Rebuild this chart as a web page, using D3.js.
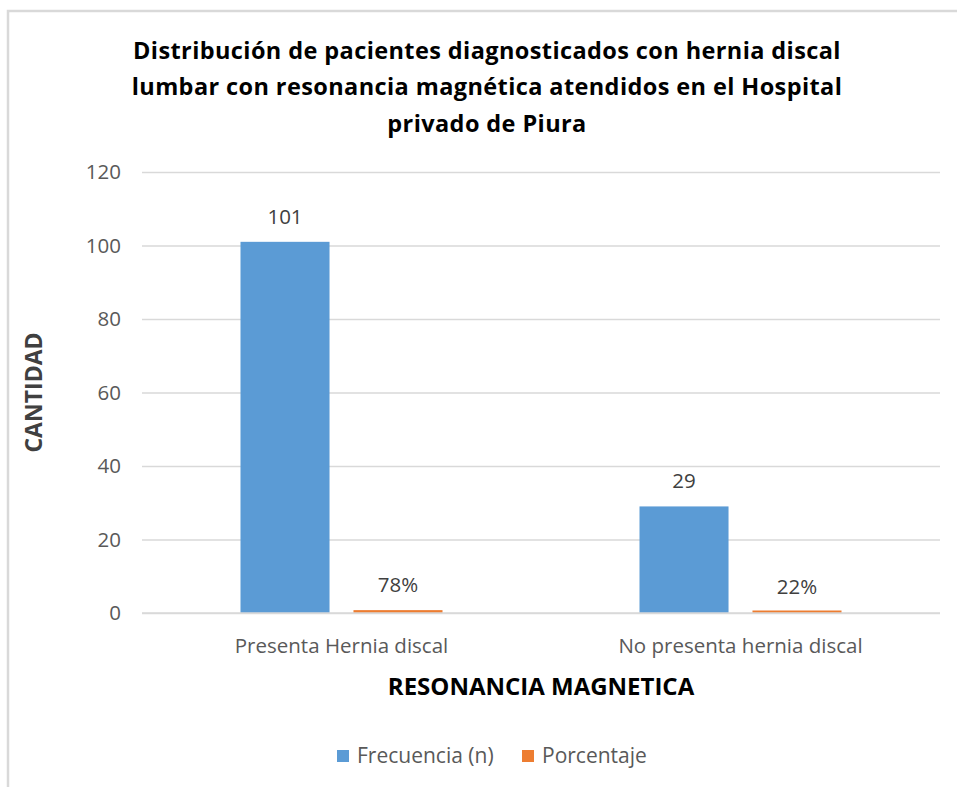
<!DOCTYPE html>
<html>
<head>
<meta charset="utf-8">
<script src="https://cdn.jsdelivr.net/npm/d3@7"></script>
<style>
  body { margin: 0; background: #fff; }
  svg text { font-family: "Open Sans", "Noto Sans", sans-serif; }
</style>
</head>
<body>
<script>
// chart data
var categories = ["Presenta Hernia discal", "No presenta hernia discal"];
var seriesNames = ["Frecuencia (n)", "Porcentaje"];
var frecuencia = [101, 29];
var porcentaje = [0.78, 0.22];
var porcentajeLabels = ["78%", "22%"];
var yTicks = [0, 20, 40, 60, 80, 100, 120];
var titleLines = [
  "Distribución de pacientes diagnosticados con hernia discal",
  "lumbar con resonancia magnética atendidos en el Hospital",
  "privado de Piura"
];

var W = 957, H = 787;
var margin = {top: 172, right: 17, bottom: 174, left: 142},
    width = W - margin.left - margin.right,
    height = H - margin.top - margin.bottom;
var colors = ["#5B9BD5", "#ED7D31"];

var svg = d3.select("body").append("svg")
    .attr("width", W)
    .attr("height", H);

// outer frame (left and top only visible)
svg.append("path")
    .attr("d", "M8,787 L8,11 L957,11")
    .attr("fill", "none")
    .attr("stroke", "#d9d9d9")
    .attr("stroke-width", 2.5);

// title
svg.append("g").selectAll("text")
    .data(titleLines)
  .enter().append("text")
    .attr("x", 487)
    .attr("y", function(d, i) { return 59 + i * 36.3; })
    .attr("text-anchor", "middle")
    .style("font-size", "23.5px")
    .style("font-weight", "bold")
    .style("letter-spacing", "0.4px")
    .attr("fill", "#000")
    .text(function(d) { return d; });

var g = svg.append("g")
    .attr("transform", "translate(" + margin.left + "," + margin.top + ")");

var x0 = d3.scaleBand().domain(categories).range([0, width]);
var x1 = d3.scaleBand().domain(seriesNames).range([0, 202]).paddingInner(0.212);
var y = d3.scaleLinear().domain([0, 120]).range([height, 0]);

// gridlines
g.append("g")
    .attr("class", "grid")
    .call(d3.axisLeft(y).tickValues(yTicks).tickSize(-width).tickFormat(""))
    .call(function(s) { s.select(".domain").remove(); })
    .selectAll("line")
    .attr("stroke", "#d9d9d9")
    .attr("stroke-width", 1.3);

// y tick labels
g.append("g")
    .call(d3.axisLeft(y).tickValues(yTicks).tickSize(0).tickPadding(21))
    .call(function(s) { s.select(".domain").remove(); })
    .selectAll("text")
    .style("font-size", "20.5px")
    .attr("fill", "#595959");

// x axis
var xAxis = g.append("g")
    .attr("transform", "translate(0," + height + ")")
    .call(d3.axisBottom(x0).tickSize(0).tickPadding(25));
xAxis.select(".domain").remove();
xAxis.selectAll("text")
    .style("font-size", "20.5px")
    .attr("fill", "#595959");

var rows = categories.map(function(c, i) {
  return {cat: c, vals: [
    {name: seriesNames[0], v: frecuencia[i], label: String(frecuencia[i])},
    {name: seriesNames[1], v: porcentaje[i], label: porcentajeLabels[i]}
  ]};
});

var groups = g.selectAll(".cat")
    .data(rows)
  .enter().append("g")
    .attr("class", "cat")
    .attr("transform", function(d) {
      return "translate(" + (x0(d.cat) + x0.bandwidth() / 2 - 101) + ",0)";
    });

groups.selectAll("rect")
    .data(function(d) { return d.vals; })
  .enter().append("rect")
    .attr("x", function(d) { return x1(d.name); })
    .attr("width", x1.bandwidth())
    .attr("y", function(d) { return Math.min(y(d.v), height - 2.5); })
    .attr("height", function(d) { return Math.max(height - y(d.v), 2.5); })
    .attr("fill", function(d, i) { return colors[i]; });

groups.selectAll(".lbl")
    .data(function(d) { return d.vals; })
  .enter().append("text")
    .attr("class", "lbl")
    .attr("x", function(d) { return x1(d.name) + x1.bandwidth() / 2; })
    .attr("y", function(d) { return y(d.v) - 18; })
    .attr("text-anchor", "middle")
    .style("font-size", "20.5px")
    .attr("fill", "#404040")
    .text(function(d) { return d.label; });

// x axis line
g.append("line")
    .attr("x1", 0).attr("x2", width)
    .attr("y1", height).attr("y2", height)
    .attr("stroke", "#d9d9d9")
    .attr("stroke-width", 1.3);

// axis titles
svg.append("text")
    .attr("x", margin.left + width / 2)
    .attr("y", 695)
    .attr("text-anchor", "middle")
    .style("font-size", "24px")
    .style("font-weight", "bold")
    .attr("fill", "#000")
    .text("RESONANCIA MAGNETICA");

svg.append("text")
    .attr("transform", "translate(42," + (margin.top + height / 2) + ") rotate(-90)")
    .attr("text-anchor", "middle")
    .style("font-size", "23px")
    .style("font-weight", "bold")
    .attr("fill", "#404040")
    .text("CANTIDAD");

// legend
var legend = svg.append("g").selectAll("g")
    .data(seriesNames)
  .enter().append("g")
    .attr("transform", function(d, i) { return "translate(" + (337 + i * 185) + ",750)"; });
legend.append("rect")
    .attr("width", 12).attr("height", 12)
    .attr("fill", function(d, i) { return colors[i]; });
legend.append("text")
    .attr("x", 20).attr("y", 13)
    .style("font-size", "21px")
    .attr("fill", "#595959")
    .text(function(d) { return d; });
</script>
</body>
</html>
